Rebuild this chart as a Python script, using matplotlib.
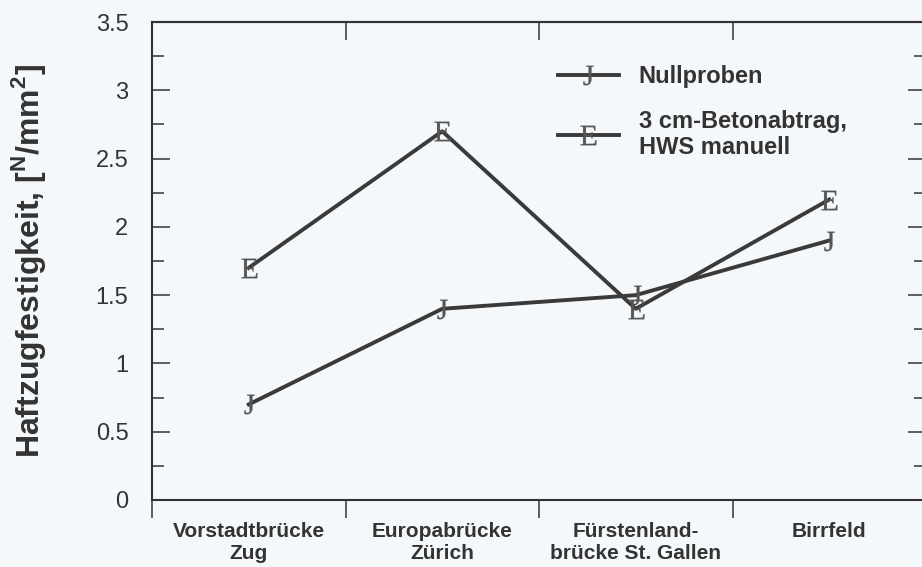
import matplotlib
matplotlib.use("Agg")
import matplotlib.pyplot as plt
from matplotlib.ticker import MultipleLocator, FuncFormatter

sites = ["Vorstadtbrücke\nZug", "Europabrücke\nZürich",
         "Fürstenland-\nbrücke St. Gallen", "Birrfeld"]
nullproben = [0.7, 1.4, 1.5, 1.9]
betonabtrag = [1.7, 2.7, 1.4, 2.2]
series_labels = ["Nullproben", "3 cm-Betonabtrag,\nHWS manuell"]
y_label = r"Haftzugfestigkeit, [$^{\mathsf{N}}$/mm$^{\mathsf{2}}$]"

plt.rcParams["font.family"] = ["Liberation Sans", "DejaVu Sans"]
plt.rcParams["mathtext.fontset"] = "custom"
plt.rcParams["mathtext.rm"] = "Liberation Serif"
plt.rcParams["mathtext.sf"] = "Liberation Sans:bold"

ink = "#333333"
line_col = "#3a3a3a"
glyph_col = "#555555"
bg = "#f5f8fa"

fig = plt.figure(figsize=(9.22, 5.67), dpi=100, facecolor=bg)
ax = fig.add_axes([152 / 922, 67 / 567, 774 / 922, 478 / 567], facecolor=bg)

x = [i + 0.5 for i in range(len(sites))]
ax.plot(x, nullproben, color=line_col, lw=2.8, marker=r"$\mathrm{J}$", ms=14,
        mfc=glyph_col, mec=glyph_col, mew=0.2, label=series_labels[0])
ax.plot(x, betonabtrag, color=line_col, lw=2.8, marker=r"$\mathrm{E}$", ms=14,
        mfc=glyph_col, mec=glyph_col, mew=0.2, label=series_labels[1])

ax.set_xlim(0, len(sites))
ax.set_ylim(0, 3.5)

for s in ax.spines.values():
    s.set_color(ink)
    s.set_linewidth(1.5)

# category boundaries get the ticks, names sit in between
ax.set_xticks(range(len(sites) + 1))
ax.set_xticklabels([])
ax.set_xticks(x, minor=True)
ax.set_xticklabels(sites, minor=True, fontsize=15, fontweight="bold", color=ink,
                   linespacing=1.2)
ax.tick_params(axis="x", which="major", direction="out", length=13, width=1.1, color=ink)
ax.tick_params(axis="x", which="minor", length=0, pad=16)

top = ax.secondary_xaxis("top")
top.set_xticks(range(1, len(sites)))
top.set_xticklabels([])
top.tick_params(direction="in", length=13, width=1.1, color=ink)
top.spines["top"].set_linewidth(1.5)
top.spines["top"].set_color(ink)

ax.yaxis.set_major_locator(MultipleLocator(0.5))
ax.yaxis.set_minor_locator(MultipleLocator(0.25))
ax.yaxis.set_major_formatter(FuncFormatter(lambda v, p: "%g" % v))
ax.tick_params(axis="y", which="both", direction="in", left=True, right=True,
               width=1.1, color=ink, labelsize=17, labelcolor=ink, pad=17)
ax.tick_params(axis="y", which="major", length=13)
ax.tick_params(axis="y", which="minor", length=8.6)

ax.set_ylabel(y_label, fontsize=23, fontweight="bold", color=ink)
ax.yaxis.set_label_coords(-0.135, 0.5)

ax.legend(loc="upper left", bbox_to_anchor=(0.525, 0.909), frameon=False,
          prop={"size": 17, "weight": "bold"}, labelcolor=ink,
          handlelength=2.55, handletextpad=0.85, labelspacing=0.9,
          borderpad=0, borderaxespad=0)

fig.savefig("out.png", dpi=100, facecolor=bg)
